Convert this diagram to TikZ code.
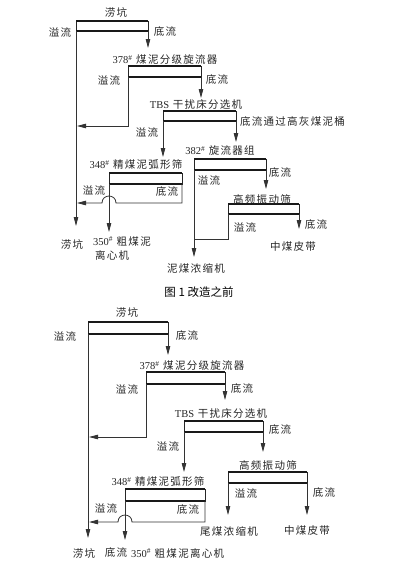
\documentclass[tikz,border=0pt]{standalone}
\usepackage{fontspec}
\setmainfont{Liberation Serif}
\newfontfamily\cjk[LetterSpace=12]{Noto Sans CJK SC}
\newfontfamily\capfont{Noto Sans CJK SC}
\usetikzlibrary{arrows.meta}
\newcommand\numtxt[1]{{\rmfamily #1\textsuperscript{\#}}}
\tikzset{
  lbl/.style={font=\cjk\fontsize{10.5}{13}\selectfont, inner sep=0pt, text=black!85},
  unitbox/.style={draw=black!85, line width=0.8pt, inner sep=0pt, outer sep=0pt, anchor=north west},
  boxline/.style={draw=black!90, line width=1.5pt},
  conn/.style={draw=black!80, line width=0.8pt},
  arr/.style={conn, -{Triangle[length=9pt,width=4.5pt]}},
}
\begin{document}
\begin{tikzpicture}[x=1pt,y=-1pt]
\path[use as bounding box, fill=white] (0,0) rectangle (407,562);

% ---------------- Figure 1 ----------------
\node[unitbox, minimum width=72pt, minimum height=10pt] (a1) at (76,21) {};
\node[unitbox, minimum width=73pt, minimum height=11pt] (b1) at (128,66) {};
\node[unitbox, minimum width=73pt, minimum height=10pt] (c1) at (163,111) {};
\node[unitbox, minimum width=72pt, minimum height=11pt] (d1) at (194,159) {};
\node[unitbox, minimum width=71pt, minimum height=10pt] (e1) at (228,204) {};
\node[unitbox, minimum width=73pt, minimum height=11pt] (f1) at (109,173) {};

% ---------------- Figure 2 ----------------
\node[unitbox, minimum width=80pt, minimum height=12pt] (a2) at (88,322) {};
\node[unitbox, minimum width=79pt, minimum height=12pt] (b2) at (146,372) {};
\node[unitbox, minimum width=79pt, minimum height=11pt] (c2) at (184,421) {};
\node[unitbox, minimum width=79pt, minimum height=11pt] (e2) at (228,472) {};
\node[unitbox, minimum width=80pt, minimum height=12pt] (f2) at (125,489) {};

\foreach \n in {a1,b1,c1,d1,e1,f1,a2,b2,c2,e2,f2}
  \draw[boxline] (\n.north west) -- (\n.north east) (\n.south west) -- (\n.south east);

% connector end points, figure 1
\coordinate (ta1l) at (76,226);
\coordinate (ta1r) at (148,48);
\coordinate (tb1l) at (77,126);
\coordinate (tb1r) at (201,98);
\coordinate (tc1l) at (163,157);
\coordinate (tc1r) at (236,142);
\coordinate (td1l) at (194,257);
\coordinate (td1r) at (266,189);
\coordinate (te1l) at (194,239);
\coordinate (te1r) at (299,229);
\coordinate (tf1l) at (109,232);
\coordinate (tf1r) at (77,203);

\draw[arr] (a1.south west) -- (ta1l);
\draw[arr] (a1.south east) -- (ta1r);
\draw[arr] (b1.south west) |- (tb1l);
\draw[arr] (b1.south east) -- (tb1r);
\draw[arr] (c1.south west) -- (tc1l);
\draw[arr] (c1.south east) -- (tc1r);
\draw[arr] (d1.south west) -- (td1l);
\draw[arr] (d1.south east) -- (td1r);
\draw[conn] (e1.south west) |- (te1l);
\draw[arr] (e1.south east) -- (te1r);
\draw[arr] (f1.south west) -- (tf1l);
\draw[arr] (f1.south east) -- (182,203) -- (116,203) .. controls (116,193.7) and (102,193.7) .. (102,203) -- (tf1r);

% labels, figure 1
\node[lbl] (l1top) at (116,12) {涝坑};
\node[lbl] (y1a) at (60,32) {溢流};
\node[lbl] (d1a) at (165,32) {底流};
\node[lbl] (l378a) at (165,60) {\numtxt{378} 煤泥分级旋流器};
\node[lbl] (y1b) at (109,80) {溢流};
\node[lbl] (d1b) at (217,80) {底流};
\node[lbl] (ltbs1) at (196,104) {{\rmfamily TBS} 干扰床分选机};
\node[lbl] (y1c) at (147,132) {溢流};
\node[lbl, anchor=west] (d1c) at (240,122) {底流通过高灰煤泥桶};
\node[lbl] (l348a) at (136,165) {\numtxt{348} 精煤泥弧形筛};
\node[lbl] (l382a) at (220,151) {\numtxt{382} 旋流器组};
\node[lbl] (y1d) at (209,180) {溢流};
\node[lbl] (d1d) at (280,173) {底流};
\node[lbl] (lgp1) at (262,199) {高频振动筛};
\node[lbl] (y1e) at (245,227) {溢流};
\node[lbl] (d1e) at (316,225) {底流};
\node[lbl] (lzm1) at (293,247) {中煤皮带};
\node[lbl] (lnm1) at (196,268) {泥煤浓缩机};
\node[lbl] (y1f) at (94,190) {溢流};
\node[lbl] (d1f) at (167,192) {底流};
\node[lbl] (lk1) at (72,244) {涝坑};
\node[lbl, anchor=north west, align=left] (lcx1) at (93,236) {\numtxt{350} 粗煤泥\\[1pt]\hspace*{2pt}离心机};
\node[font=\capfont\fontsize{11.5}{13}\selectfont, inner sep=0pt] (cap1) at (199,292) {图 1 改造之前};

% connector end points, figure 2
\coordinate (ta2l) at (88,538);
\coordinate (ta2r) at (168,355);
\coordinate (tb2l) at (89,437);
\coordinate (tb2r) at (225,400);
\coordinate (tc2l) at (184,472);
\coordinate (tc2r) at (263,452);
\coordinate (te2l) at (228,515);
\coordinate (te2r) at (307,515);
\coordinate (tf2l) at (125,540);
\coordinate (tf2r) at (89,522);

\draw[arr] (a2.south west) -- (ta2l);
\draw[arr] (a2.south east) -- (ta2r);
\draw[arr] (b2.south west) |- (tb2l);
\draw[arr] (b2.south east) -- (tb2r);
\draw[arr] (c2.south west) -- (tc2l);
\draw[arr] (c2.south east) -- (tc2r);
\draw[arr] (e2.south west) -- (te2l);
\draw[arr] (e2.south east) -- (te2r);
\draw[arr] (f2.south west) -- (tf2l);
\draw[arr] (f2.south east) -- (205,522) -- (132,522) .. controls (132,512.7) and (118,512.7) .. (118,522) -- (tf2r);

% labels, figure 2
\node[lbl] (l2top) at (127,312) {涝坑};
\node[lbl] (y2a) at (65,336) {溢流};
\node[lbl] (d2a) at (187,336) {底流};
\node[lbl] (l378b) at (192,366) {\numtxt{378} 煤泥分级旋流器};
\node[lbl] (y2b) at (127,389) {溢流};
\node[lbl] (d2b) at (242,389) {底流};
\node[lbl] (ltbs2) at (221,413) {{\rmfamily TBS} 干扰床分选机};
\node[lbl] (d2c) at (280,430) {底流};
\node[lbl] (y2c) at (168,446) {溢流};
\node[lbl] (l348b) at (158,482) {\numtxt{348} 精煤泥弧形筛};
\node[lbl] (lgp2) at (268,465) {高频振动筛};
\node[lbl] (y2e) at (246,493) {溢流};
\node[lbl] (d2e) at (324,493) {底流};
\node[lbl] (lwm2) at (229,531) {尾煤浓缩机};
\node[lbl] (lzm2) at (307,531) {中煤皮带};
\node[lbl] (y2f) at (106,508) {溢流};
\node[lbl] (d2f) at (188,510) {底流};
\node[lbl] (lk2) at (84,553) {涝坑};
\node[lbl] (dl2) at (116,553) {底流};
\node[lbl, anchor=west] (lcx2) at (131,553) {\numtxt{350} 粗煤泥离心机};
\end{tikzpicture}
\end{document}
